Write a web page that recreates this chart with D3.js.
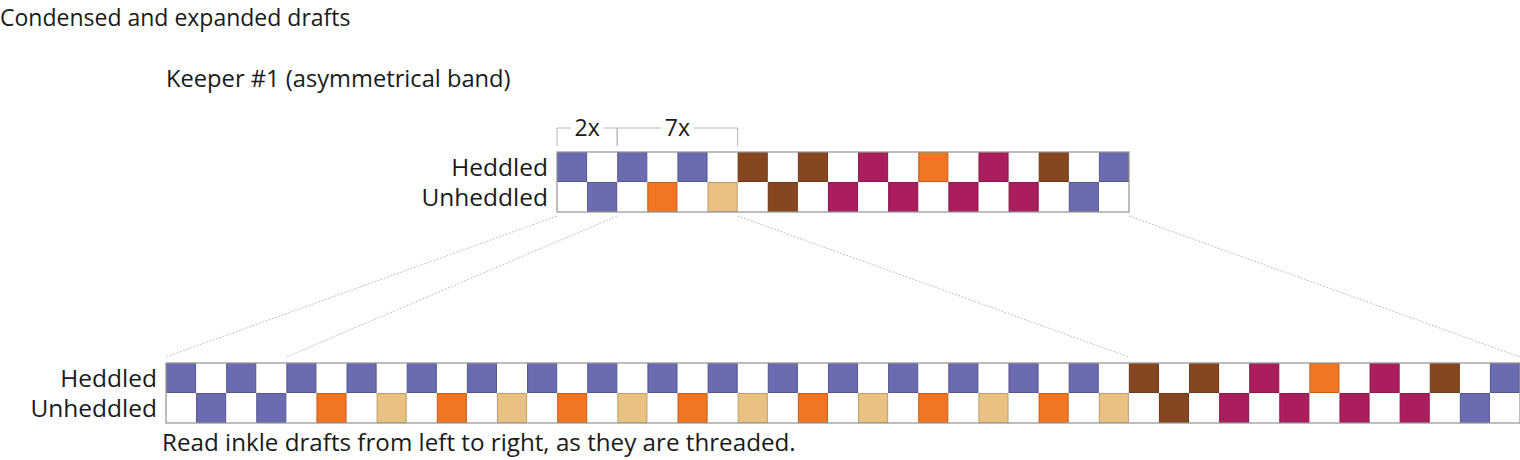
<!DOCTYPE html>
<html>
<head>
<meta charset="utf-8">
<script src="https://cdn.jsdelivr.net/npm/d3@7"></script>
<style>
  body { margin: 0; background: #fff; }
  text { font-family: "Open Sans", "Noto Sans", sans-serif; fill: #1a1a1a; }
</style>
</head>
<body>
<div id="chart"></div>
<script>
// condensed draft, one entry per thread column (null = empty / white)
const heddled = ["P", null, "P", null, "P", null, "B", null, "B", null, "M", null, "O", null, "M", null, "B", null, "P"];
const unheddled = [null, "P", null, "O", null, "T", null, "B", null, "M", null, "M", null, "M", null, "M", null, "P", null];
const rowNames = ["Heddled", "Unheddled"];
// repeat groups in the condensed draft: start column, column count, times
const repeats = [
    {label: "2x", start: 0, count: 2, times: 2},
    {label: "7x", start: 2, count: 4, times: 7}
];
const colorKeys = ["P", "B", "M", "O", "T"];
const colorValues = ["#6a6bb1", "#86461f", "#ab1e5e", "#f17522", "#e9c283"];

const title = "Condensed and expanded drafts";
const subtitle = "Keeper #1 (asymmetrical band)";
const footnote = "Read inkle drafts from left to right, as they are threaded.";

class InkleDraft {
    constructor(target, width = 1520, height = 460) {
        this.target = target;
        this.width = width;
        this.height = height;
    }

    initialize() {
        this.svg = d3.select(this.target)
            .append('svg')
            .attr('width', this.width)
            .attr('height', this.height);

        this.color = d3.scaleOrdinal().domain(colorKeys).range(colorValues);

        // build expanded draft by writing out each repeat group
        const expandedH = [], expandedU = [];
        const colMap = []; // condensed col -> expanded start
        let i = 0;
        while (i < heddled.length) {
            const rep = repeats.find(r => r.start === i);
            if (rep) {
                colMap[i] = expandedH.length;
                for (let t = 0; t < rep.times; t++) {
                    for (let k = 0; k < rep.count; k++) {
                        expandedH.push(heddled[i + k]);
                        expandedU.push(unheddled[i + k]);
                    }
                }
                i += rep.count;
            } else {
                colMap[i] = expandedH.length;
                expandedH.push(heddled[i]);
                expandedU.push(unheddled[i]);
                i++;
            }
        }
        colMap[heddled.length] = expandedH.length;
        this.colMap = colMap;

        const svg = this.svg;
        svg.append('text').attr('x', 0).attr('y', 26)
            .style('font-size', '23px').text(title);
        svg.append('text').attr('x', 166).attr('y', 87)
            .style('font-size', '23.7px').text(subtitle);
        svg.append('text').attr('x', 162).attr('y', 451)
            .style('font-size', '24.2px').text(footnote);

        this.top = this.drawDraft([heddled, unheddled], 557, 1129, 152, 60, 548);
        this.bottom = this.drawDraft([expandedH, expandedU], 166, 1520, 363, 60, 157);

        this.drawBrackets();
        this.drawConnectors();
    }

    drawDraft(rows, x0, x1, y0, h, labelX) {
        const x = d3.scaleBand()
            .domain(d3.range(rows[0].length))
            .range([x0, x1]);
        const y = d3.scaleBand()
            .domain(rowNames)
            .range([y0, y0 + h]);

        const g = this.svg.append('g');
        const cells = [];
        rows.forEach((r, ri) => r.forEach((c, ci) => cells.push({row: rowNames[ri], col: ci, c: c})));

        g.selectAll('.cell')
            .data(cells.filter(d => d.c))
            .enter()
            .append('rect')
            .attr('x', d => x(d.col) + 0.5)
            .attr('y', d => y(d.row) + 0.5)
            .attr('width', x.bandwidth() - 1)
            .attr('height', y.bandwidth() - 1)
            .style('fill', d => this.color(d.c))
            .style('stroke', d => d3.color(this.color(d.c)).darker(0.6))
            .style('stroke-width', 1);

        g.append('rect')
            .attr('x', x0)
            .attr('y', y0)
            .attr('width', x1 - x0)
            .attr('height', h)
            .style('fill', 'none')
            .style('stroke', '#9a9a9a')
            .style('stroke-width', 1.3);

        g.selectAll('.rowlabel')
            .data(rowNames)
            .enter()
            .append('text')
            .attr('x', labelX)
            .attr('y', d => y(d) + y.bandwidth() / 2)
            .attr('dy', '0.36em')
            .style('text-anchor', 'end')
            .style('font-size', '24.5px')
            .text(d => d);

        return {x: x, y0: y0, y1: y0 + h};
    }

    drawBrackets() {
        const x = this.top.x;
        const yTop = 128, yBot = 146;
        const g = this.svg.append('g')
            .style('stroke', '#b5b5b5')
            .style('stroke-width', 1)
            .style('fill', 'none');
        repeats.forEach(r => {
            const a = x(r.start), b = x(r.start + r.count - 1) + x.bandwidth();
            const mid = (a + b) / 2;
            g.append('line').attr('x1', a).attr('x2', a).attr('y1', yTop).attr('y2', yBot);
            g.append('line').attr('x1', b).attr('x2', b).attr('y1', yTop).attr('y2', yBot);
            g.append('line').attr('x1', a).attr('x2', mid - 16).attr('y1', yTop).attr('y2', yTop);
            g.append('line').attr('x1', mid + 16).attr('x2', b).attr('y1', yTop).attr('y2', yTop);
            this.svg.append('text')
                .attr('x', mid)
                .attr('y', yTop + 8)
                .style('text-anchor', 'middle')
                .style('font-size', '23px')
                .text(r.label);
        });
    }

    drawConnectors() {
        const xt = this.top.x, xb = this.bottom.x;
        const edge = (sc, n) => n >= sc.domain().length ? sc.range()[1] : sc(n);
        const breaks = [0, repeats[1].start, repeats[1].start + repeats[1].count, heddled.length];
        this.svg.append('g')
            .selectAll('line')
            .data(breaks)
            .enter()
            .append('line')
            .attr('x1', d => edge(xt, d))
            .attr('y1', this.top.y1 + 4)
            .attr('x2', d => edge(xb, this.colMap[d]))
            .attr('y2', this.bottom.y0 - 6)
            .style('stroke', '#b0b0b0')
            .style('stroke-width', 0.8)
            .style('stroke-dasharray', '2,1.5');
    }
}

new InkleDraft('#chart').initialize();
</script>
</body>
</html>
